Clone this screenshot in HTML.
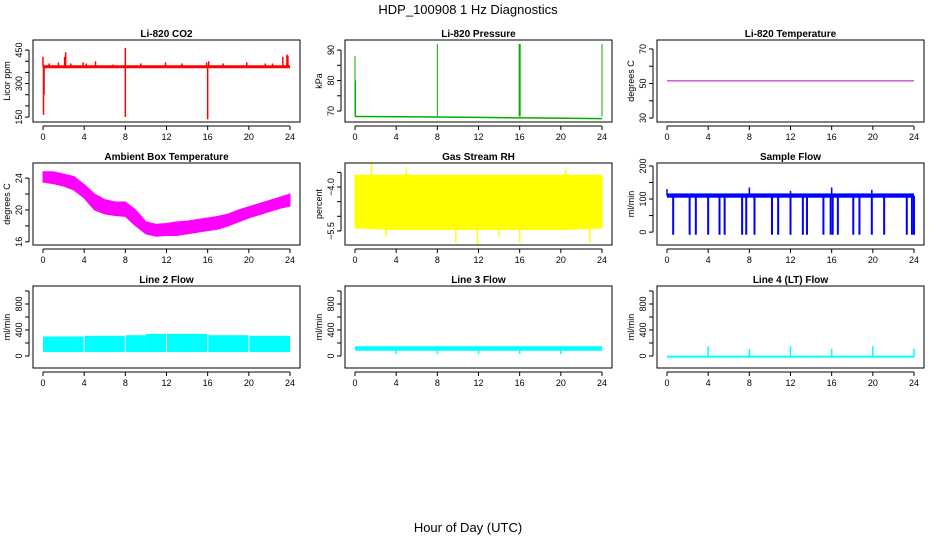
<!DOCTYPE html>
<html><head><meta charset="utf-8"><style>
body{margin:0;background:#fff}
svg{display:block;font-family:"Liberation Sans",sans-serif}
</style></head><body>
<svg id="c" width="936" height="540" viewBox="0 0 936 540">
<text x="468" y="14" text-anchor="middle" font-size="13">HDP_100908  1 Hz Diagnostics</text>
<text x="468" y="532" text-anchor="middle" font-size="13">Hour of Day (UTC)</text>
</svg>
<script>
const xTicks=[0,4,8,12,16,20,24];
// CO2
const co2Base=375;
const co2Spikes=[[0,420],[0.05,160],[0.1,250],[0.6,390],[1.5,395],[2.1,420],[2.2,440],[2.7,390],[3.9,395],[4.2,390],[5.1,400],[6.8,385],[8,150],[8,460],[9.5,390],[11.9,395],[13.5,390],[15.9,395],[16,140],[16.1,400],[17.5,390],[19.8,395],[21.6,390],[22.3,390],[23.3,420],[23.7,430],[23.8,425]];
// Pressure
const presTimes=[0,6,12,18,24];
const presVals=[68.2,68.1,67.9,67.7,67.5];
const presSpikes=[[0,88],[0.05,80],[8,92],[15.95,92],[16,92],[16.05,92],[24,92]];
// Li-820 temperature
const tempVal=51.5;
// Ambient
const ambTimes=[0,1,2,3,4,5,6,7,8,9,10,11,12,13,14,15,16,17,18,19,20,21,22,23,24];
const ambLow=[23.5,23.3,23.0,22.5,21.5,20.0,19.5,19.3,19.2,18.0,17.0,16.7,16.8,16.8,17.0,17.2,17.4,17.6,18.0,18.5,19.0,19.4,19.8,20.2,20.5];
const ambHigh=[24.8,24.8,24.5,24.2,23.2,22.0,21.3,21.0,21.0,20.0,18.5,18.2,18.3,18.5,18.6,18.8,19.0,19.2,19.5,20.0,20.4,20.8,21.2,21.6,22.0];
// RH
const rhTimes=[0,4,8,12,16,20,24];
const rhLow=[-5.4,-5.45,-5.45,-5.45,-5.45,-5.45,-5.4];
const rhHigh=[-3.6,-3.6,-3.6,-3.6,-3.6,-3.6,-3.6];
const rhSpikes=[[1.6,-3.2],[5,-3.4],[9.8,-5.9],[11.9,-6.0],[16,-5.9],[20.5,-3.4],[22.8,-5.9],[3,-5.7],[14,-5.7]];
// Sample flow
const sfBase=110;
const sfDrops=[0.6,2.2,2.8,4.0,5.1,5.6,7.3,7.7,8.5,10.2,10.8,12.0,13.2,13.6,15.2,15.9,16.1,16.6,18.1,18.7,19.9,21.1,23.3,23.8,24];
const sfUps=[[0,130],[8,135],[12,125],[16,135],[19.9,128]];
// Line flows
const l2Times=[0,4,8,10,16,20,24];
const l2High=[300,310,320,340,320,310,310];
const l2Low=60;
const l3High=150, l3Low=80;
const gapTimes=[4,8,12,16,20];
const l4Base=-10;
const l4Spikes=[[4,150],[8,110],[12,150],[16,110],[20,150],[24,110]];

const svg=document.getElementById('c');const NS='http://www.w3.org/2000/svg';
function el(t,a,p){const e=document.createElementNS(NS,t);for(const k in a)e.setAttribute(k,a[k]);(p||svg).appendChild(e);return e;}
const panels=[
 {t:'Li-820 CO2',yl:'Licor ppm',c:0,r:0,lo:128,hi:495,ticks:[150,200,250,300,350,400,450],lab:[150,300,450],d:0},
 {t:'Li-820 Pressure',yl:'kPa',c:1,r:0,lo:66.4,hi:93.3,ticks:[70,75,80,85,90],lab:[70,80,90],d:0},
 {t:'Li-820 Temperature',yl:'degrees C',c:2,r:0,lo:27.7,hi:75.2,ticks:[30,40,50,60,70],lab:[30,50,70],d:0},
 {t:'Ambient Box Temperature',yl:'degrees C',c:0,r:1,lo:15.6,hi:25.9,ticks:[16,18,20,22,24],lab:[16,20,24],d:0},
 {t:'Gas Stream RH',yl:'percent',c:1,r:1,lo:-5.98,hi:-3.18,ticks:[-5.5,-5,-4.5,-4,-3.5],lab:[-5.5,-4],d:1},
 {t:'Sample Flow',yl:'ml/min',c:2,r:1,lo:-39,hi:209,ticks:[0,50,100,150,200],lab:[0,100,200],d:0},
 {t:'Line 2 Flow',yl:'ml/min',c:0,r:2,lo:-185,hi:1077,ticks:[0,200,400,600,800,1000],lab:[0,400,800],d:0},
 {t:'Line 3 Flow',yl:'ml/min',c:1,r:2,lo:-185,hi:1077,ticks:[0,200,400,600,800,1000],lab:[0,400,800],d:0},
 {t:'Line 4 (LT) Flow',yl:'ml/min',c:2,r:2,lo:-185,hi:1077,ticks:[0,200,400,600,800,1000],lab:[0,400,800],d:0}];
function fmt(v,d){return v.toFixed(d).replace('-','\u2212');}
panels.forEach((p,i)=>{
 const L=33+312*p.c,T=40+123*p.r,W=267,H=82;
 p.x=h=>L+10+h*(247/24);
 p.y=v=>T+H-(v-p.lo)/(p.hi-p.lo)*H;
 const g=el('g',{});
 
 
 p.g=el('g',{},g);
 const box=el('rect',{x:L,y:T,width:W,height:H,fill:'none',stroke:'#000','stroke-width':1},g);
 
 const tt=el('text',{x:L+W/2,y:T-3,'text-anchor':'middle','font-size':10,'font-weight':'bold'},g);tt.textContent=p.t;
 
 const yl=el('text',{x:0,y:0,transform:`translate(${L-23},${T+H/2}) rotate(-90)`,'text-anchor':'middle','font-size':9},g);yl.textContent=p.yl;
 
 const b=T+H;
 el('line',{x1:p.x(0),x2:p.x(24),y1:b+4,y2:b+4,stroke:'#000'},g);
 xTicks.forEach(h=>{el('line',{x1:p.x(h),x2:p.x(h),y1:b+4,y2:b+8,stroke:'#000'},g);
  const t=el('text',{x:p.x(h),y:b+18,'text-anchor':'middle','font-size':9},g);t.textContent=h;
  });
 el('line',{x1:L-4,x2:L-4,y1:p.y(p.ticks[0]),y2:p.y(p.ticks[p.ticks.length-1]),stroke:'#000'},g);
 p.ticks.forEach(v=>el('line',{x1:L-8,x2:L-4,y1:p.y(v),y2:p.y(v),stroke:'#000'},g));
 p.lab.forEach(v=>{const t=el('text',{x:0,y:0,transform:`translate(${L-11},${p.y(v)}) rotate(-90)`,'text-anchor':'middle','font-size':9},g);t.textContent=fmt(v,p.d);
  });
});
function vl(p,h,a,b,col,w){const e=el('line',{x1:p.x(h),x2:p.x(h),y1:p.y(a),y2:p.y(b),stroke:col,'stroke-width':w||1},p.g);return e;}
function hl(p,h1,h2,v,col,w){return el('line',{x1:p.x(h1),x2:p.x(h2),y1:p.y(v),y2:p.y(v),stroke:col,'stroke-width':w||1},p.g);}
function band(p,ts,lo,hi,col){let d='M'+ts.map((t,i)=>p.x(t)+','+p.y(hi[i])).join('L');
 for(let i=ts.length-1;i>=0;i--)d+='L'+p.x(ts[i])+','+p.y(lo[i]);return el('path',{d:d+'Z',fill:col,stroke:col},p.g);}
function named(e,n){}
// CO2
let P=panels[0];named(hl(P,0,24,co2Base,'red',3),'co2-series');
co2Spikes.forEach(s=>named(vl(P,s[0],co2Base,s[1],'red',1.5),'co2-spike'));
// Pressure
P=panels[1];named(el('polyline',{points:presTimes.map((t,i)=>P.x(t)+','+P.y(presVals[i])).join(' '),fill:'none',stroke:'#00b000','stroke-width':1.5},P.g),'pressure-series');
presSpikes.forEach(s=>named(vl(P,s[0],presVals[0],s[1],'#00b000',1),'pressure-spike'));
// Temp
P=panels[2];named(hl(P,0,24,tempVal,'#c000c0',1),'li820-temperature-series');
// Ambient
P=panels[3];named(band(P,ambTimes,ambLow,ambHigh,'#ff00ff'),'ambient-temperature-series');
// RH
P=panels[4];named(band(P,rhTimes,rhLow,rhHigh,'#ffff00'),'rh-series');
rhSpikes.forEach(s=>named(vl(P,s[0],-4.5,s[1],'#ffff00',1.5),'rh-spike'));
// Sample flow
P=panels[5];named(el('rect',{x:P.x(0),y:P.y(sfBase+7),width:P.x(24)-P.x(0),height:P.y(sfBase-6)-P.y(sfBase+7),fill:'#0000ff'},P.g),'sample-flow-series');
sfDrops.forEach(h=>named(vl(P,h,sfBase,-8,'#0000ff',2),'sample-flow-dropout'));
sfUps.forEach(s=>named(vl(P,s[0],sfBase,s[1],'#0000ff',1.5),'sample-flow-spike'));
// Line 2
P=panels[6];
for(let i=0;i<l2Times.length-1;i++){named(el('rect',{x:P.x(l2Times[i]),y:P.y(l2High[i]),width:P.x(l2Times[i+1])-P.x(l2Times[i]),height:P.y(l2Low)-P.y(l2High[i]),fill:'#00ffff'},P.g),'line2-flow-segment');}
gapTimes.forEach(h=>named(vl(P,h,l2Low,350,'#fff',1),'line2-gap'));
// Line 3
P=panels[7];named(el('rect',{x:P.x(0),y:P.y(l3High),width:P.x(24)-P.x(0),height:P.y(l3Low)-P.y(l3High),fill:'#00ffff'},P.g),'line3-flow-series');
gapTimes.forEach(h=>named(vl(P,h,l3Low,30,'#00ffff',1.5),'line3-dip'));
// Line 4
P=panels[8];named(hl(P,0,24,l4Base,'#00ffff',2),'line4-flow-series');
l4Spikes.forEach(s=>named(vl(P,s[0],l4Base,s[1],'#00ffff',1.5),'line4-spike'));
</script>
</body></html>
